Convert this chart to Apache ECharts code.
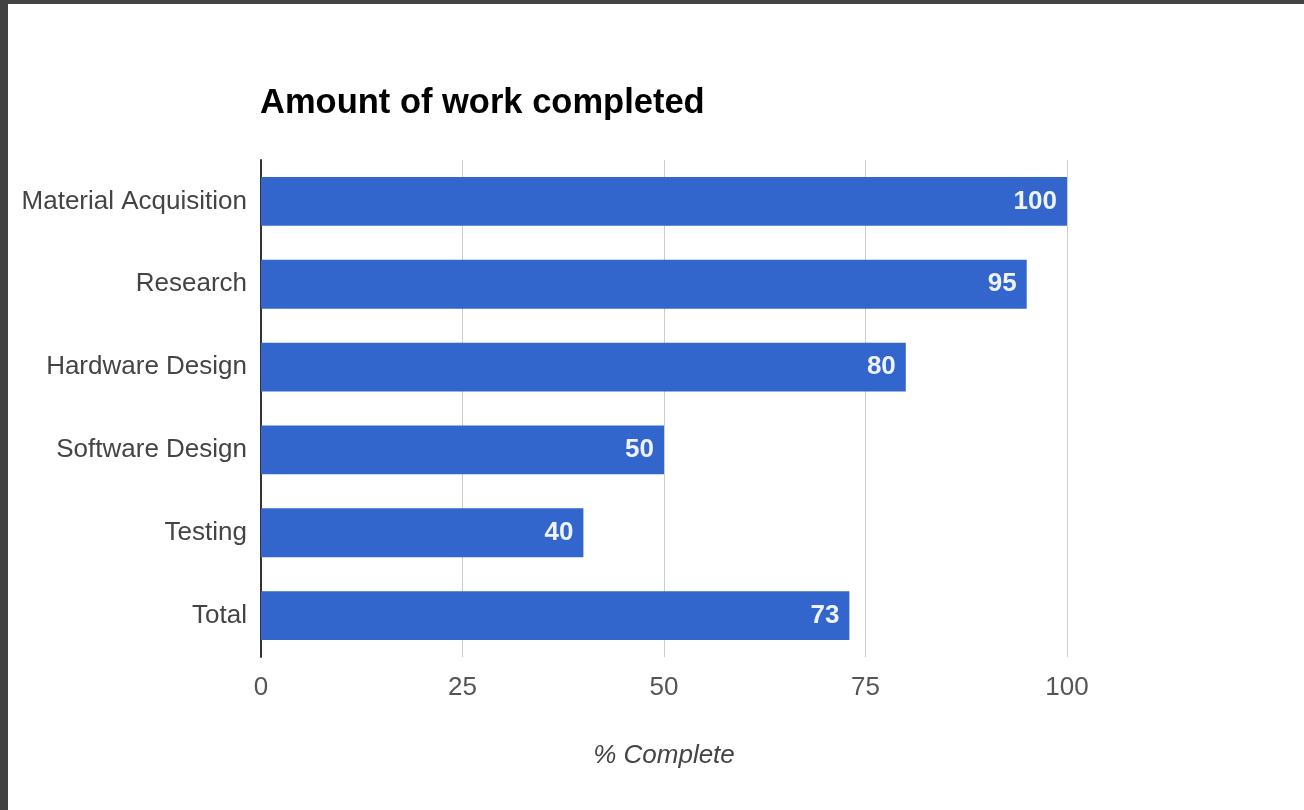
<!DOCTYPE html>
<html>
<head>
<meta charset="utf-8">
<script src="https://cdn.jsdelivr.net/npm/echarts@6/dist/echarts.min.js"></script>
<style>
  html, body { margin: 0; padding: 0; background: #424242; width: 1304px; height: 810px; overflow: hidden; }
  #chart { position: absolute; left: 8px; top: 4px; width: 1296px; height: 806px; background: #ffffff; }
</style>
</head>
<body>
<div id="chart"></div>
<script>
const categories = ["Material Acquisition", "Research", "Hardware Design", "Software Design", "Testing", "Total"];
const values = [100, 95, 80, 50, 40, 73];
const xTicks = [0, 25, 50, 75, 100];
const titleText = "Amount of work completed";
const xAxisName = "% Complete";

const FONT = "'Liberation Sans', Arial, sans-serif";
const chart = echarts.init(document.getElementById('chart'), null, { renderer: 'canvas' });
chart.setOption({
  animation: false,
  backgroundColor: '#ffffff',
  title: {
    text: titleText,
    left: 252,
    top: 76,
    padding: 0,
    textStyle: { fontFamily: FONT, fontSize: 34.5, fontWeight: 'bold', color: '#000000', lineHeight: 46 }
  },
  grid: { left: 253, top: 156, width: 806, height: 497, containLabel: false },
  xAxis: {
    type: 'value',
    min: xTicks[0],
    max: xTicks[xTicks.length - 1],
    interval: xTicks[1] - xTicks[0],
    name: xAxisName,
    nameLocation: 'middle',
    nameGap: 86,
    nameTextStyle: { fontFamily: FONT, fontSize: 26, fontStyle: 'italic', color: '#444444' },
    axisLine: { show: false },
    axisTick: { show: false },
    axisLabel: { margin: 18, fontFamily: FONT, fontSize: 26, color: '#555555', lineHeight: 26 },
    splitLine: { show: true, lineStyle: { color: '#cccccc', width: 1 } }
  },
  yAxis: {
    type: 'category',
    data: categories,
    inverse: true,
    axisLine: { show: true, lineStyle: { color: '#333333', width: 2 } },
    axisTick: { show: false },
    axisLabel: { margin: 14, fontFamily: FONT, fontSize: 26, color: '#444444' },
    splitLine: { show: false }
  },
  series: [{
    type: 'bar',
    data: values,
    barCategoryGap: '41%',
    itemStyle: { color: '#3366cc' },
    label: {
      show: true,
      position: 'insideRight',
      distance: 10,
      fontFamily: FONT,
      fontSize: 26,
      fontWeight: 'bold',
      color: '#eef2fa'
    }
  }]
});
</script>
</body>
</html>
